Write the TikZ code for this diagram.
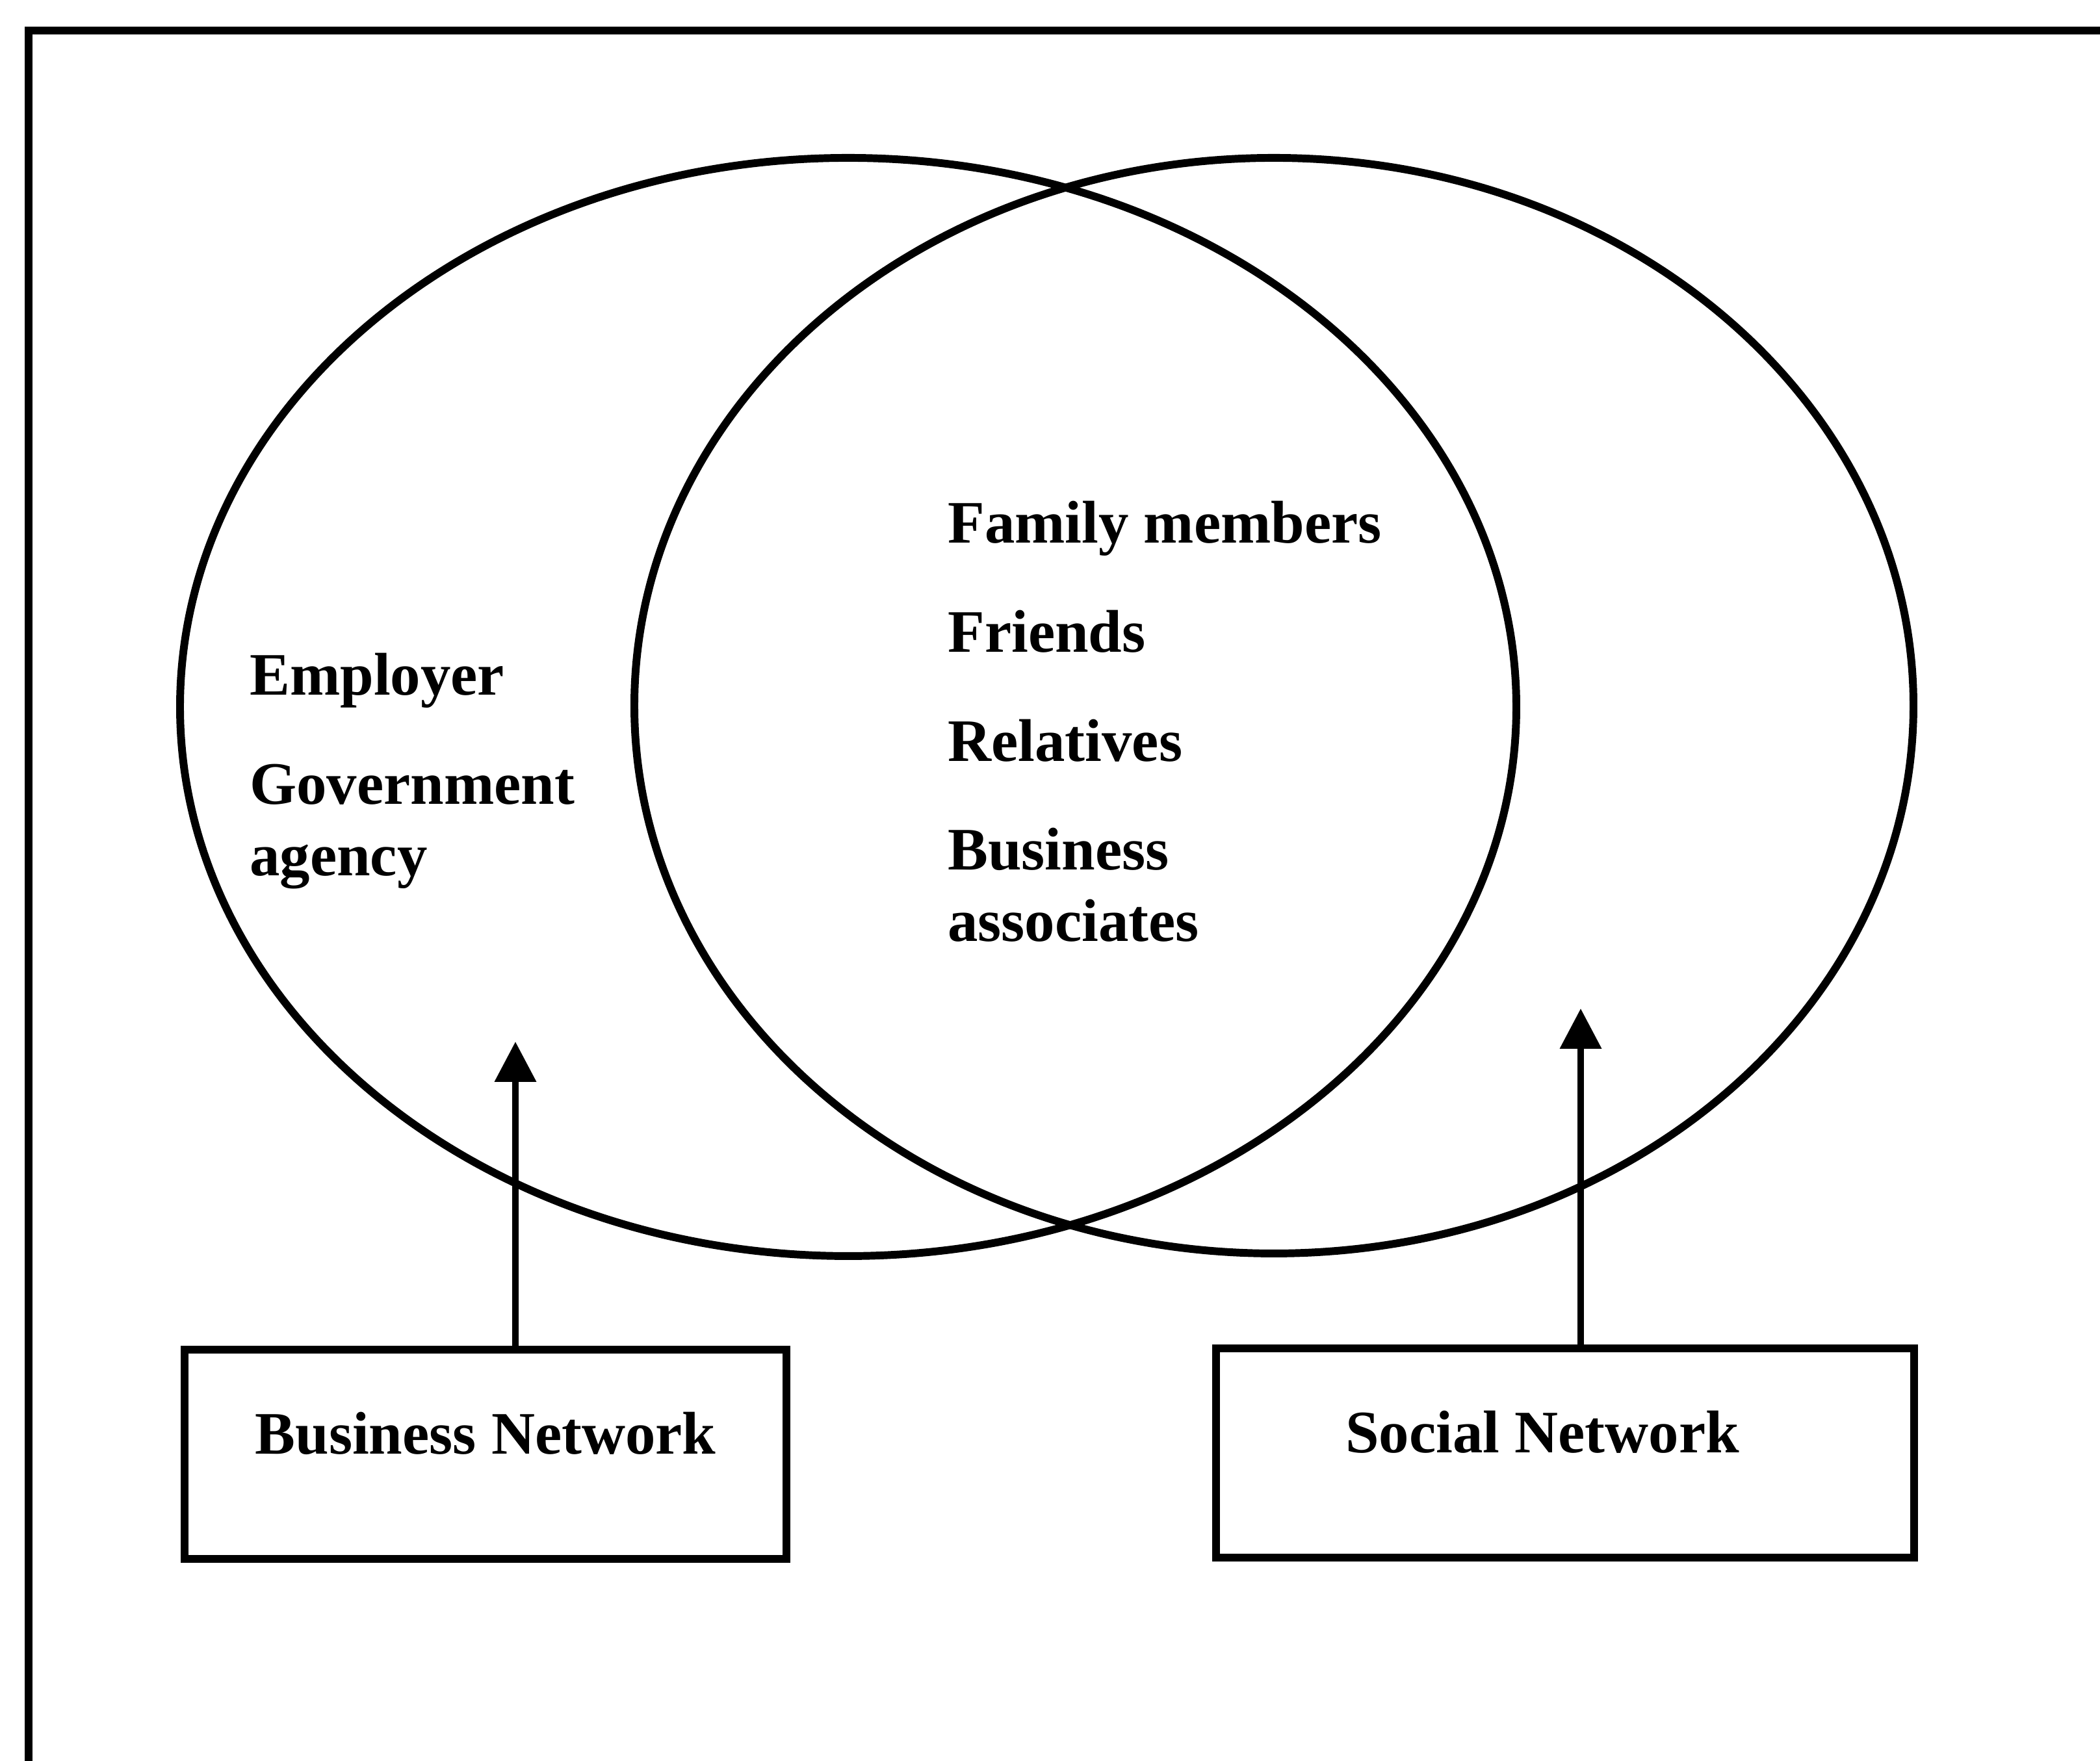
\documentclass[tikz,border=0pt]{standalone}
\usepackage{fontspec}
\setmainfont{Liberation Serif}
\usetikzlibrary{arrows.meta,shapes.geometric}

\begin{document}
\begin{tikzpicture}[
    font=\fontsize{13.2}{15.6}\selectfont\bfseries,
    ring/.style={draw, ellipse, line width=1.7pt, inner sep=0pt},
    netbox/.style={draw, line width=1.8pt, minimum height=1.61cm, text height=0.3cm, text depth=0.3cm},
    itemlist/.style={align=left, anchor=north west, inner sep=0pt},
    uparrow/.style={-{Triangle[length=3.1mm, width=3.1mm]}, line width=1.5pt}
]
    % Page size and outer frame
    \useasboundingbox (0,0) rectangle (16.155,13.55);
    \draw[line width=1.8pt] (0.22,-0.5) -- (0.22,13.315) -- (16.7,13.315);

    % Define the two overlapping networks
    \node[ring, minimum width=10.28cm, minimum height=8.45cm] (busring) at (6.525,8.11) {};
    \node[ring, minimum width=9.84cm, minimum height=8.43cm] (socring) at (9.80,8.12) {};

    % Members of each network
    \node[itemlist] (busitems) at (1.915,8.53) {Employer\\[0.29cm]Government\\agency};
    \node[itemlist] (shareditems) at (7.285,9.70) {Family members\\[0.29cm]Friends\\[0.29cm]Relatives\\[0.29cm]Business\\associates};

    % Network boxes
    \node[netbox, minimum width=4.63cm] (busbox) at (3.735,2.36) {Business Network};
    \node[netbox, minimum width=5.37cm] (socbox) at (12.04,2.37) {Social Network\hspace*{0.35cm}};

    % Draw arrows
    \coordinate (bustip) at (3.965,5.535);
    \coordinate (soctip) at (12.16,5.79);
    \draw[uparrow] (bustip |- busbox.north) -- (bustip);
    \draw[uparrow] (soctip |- socbox.north) -- (soctip);
\end{tikzpicture}
\end{document}
